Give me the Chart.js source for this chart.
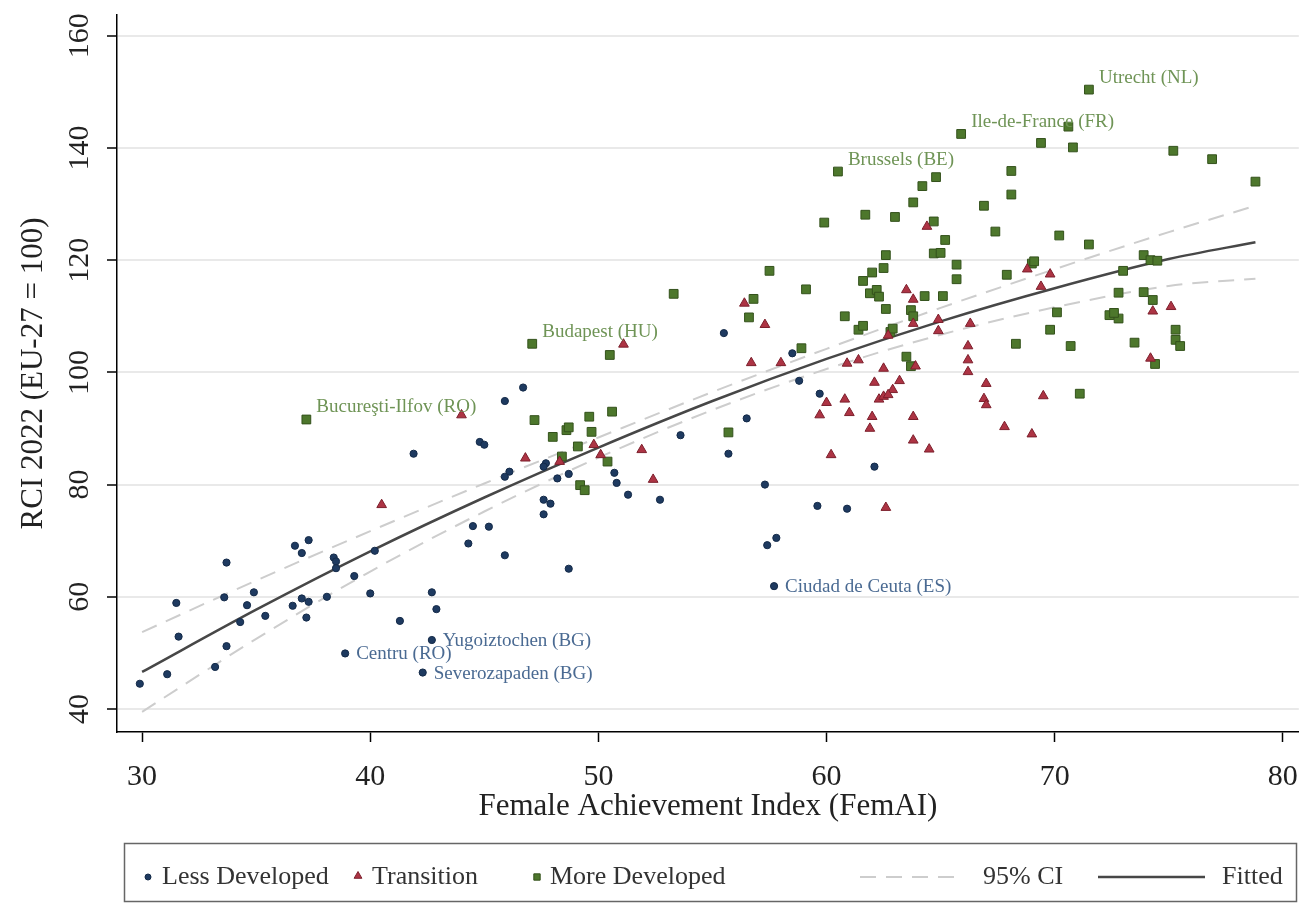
<!DOCTYPE html>
<html>
<head>
<meta charset="utf-8">
<title>RCI 2022 vs Female Achievement Index</title>
<script src="https://cdn.jsdelivr.net/npm/chart.js@4.4.1/dist/chart.umd.min.js"></script>
<style>
  html, body { margin: 0; padding: 0; background: #fff; }
  #wrap { width: 1306px; height: 903px; }
</style>
</head>
<body>
<div id="wrap"><canvas id="rciChart" width="1306" height="903"></canvas></div>
<script>
// tick labels
const xTickValues = [30, 40, 50, 60, 70, 80];
const yTickValues = [40, 60, 80, 100, 120, 140, 160];

// [FemAI, RCI] per region; labelled regions come first in each list
const lessDeveloped = [
  [57.7, 61.9], [42.7, 52.3], [38.9, 49.9], [42.3, 46.5],
  [29.9, 44.5], [31.1, 46.2], [33.2, 47.5], [33.7, 51.2], [31.6, 52.9], [31.5, 58.9],
  [33.7, 66.1], [33.6, 59.9], [34.9, 60.8], [34.6, 58.5], [34.3, 55.5], [35.4, 56.6],
  [36.7, 69.1], [37.3, 70.1], [37.0, 67.8], [36.6, 58.4], [37.0, 59.7], [37.3, 59.1],
  [37.2, 56.3], [38.1, 60.0], [38.4, 67.0], [38.5, 66.3], [38.5, 65.1], [39.3, 63.7],
  [40.2, 68.2], [40.0, 60.6], [41.3, 55.7], [42.7, 60.8], [42.9, 57.8], [41.9, 85.5],
  [44.5, 72.6], [45.2, 72.5], [44.3, 69.5], [44.8, 87.6], [45.0, 87.1],
  [55.5, 107.0], [46.7, 97.3], [45.9, 94.9], [47.7, 83.8], [47.6, 83.2], [46.1, 82.3],
  [45.9, 81.4], [48.2, 81.1], [48.7, 81.9], [50.7, 82.1], [50.8, 80.3], [51.3, 78.2],
  [52.7, 77.3], [53.6, 88.8], [55.7, 85.5], [56.5, 91.8], [57.3, 80.0], [57.4, 69.2],
  [57.8, 70.5], [47.6, 77.3], [47.9, 76.6], [47.6, 74.7], [45.9, 67.4], [48.7, 65.0],
  [58.5, 103.4], [58.8, 98.5], [59.7, 96.2], [62.1, 83.2], [59.6, 76.2], [60.9, 75.7]
];
const lessNames = ['Ciudad de Ceuta (ES)', 'Yugoiztochen (BG)', 'Centru (RO)', 'Severozapaden (BG)'];

const transition = [
  [44.0, 92.4], [40.5, 76.4],
  [51.1, 105.0], [56.4, 112.3], [57.3, 108.5], [56.7, 101.7], [58.0, 101.7], [49.8, 87.1],
  [50.1, 85.3], [46.8, 84.7], [48.3, 84.1], [51.9, 86.2], [52.4, 80.9],
  [64.4, 126.0], [68.8, 118.4], [69.8, 117.5], [69.4, 115.3], [63.5, 114.7], [63.8, 113.0],
  [74.3, 110.9], [75.1, 111.7], [63.8, 108.7], [64.9, 109.4], [66.3, 108.7],
  [74.2, 102.5], [69.5, 95.8], [67.8, 90.3], [69.0, 89.0], [67.0, 98.0], [66.9, 95.3],
  [67.0, 94.2], [66.2, 104.7], [66.2, 102.2], [66.2, 100.1], [64.9, 107.4], [63.9, 101.1],
  [62.7, 106.6], [60.9, 101.6], [61.4, 102.2], [62.5, 100.7], [62.1, 98.2], [63.2, 98.5],
  [62.9, 96.9], [62.3, 95.2], [62.5, 95.7], [62.7, 96.0], [63.8, 92.1], [63.8, 87.9],
  [64.5, 86.3], [62.0, 92.1], [61.9, 90.0], [60.8, 95.2], [61.0, 92.8], [60.0, 94.6],
  [59.7, 92.4], [60.2, 85.3], [62.6, 75.9]
];

const moreDeveloped = [
  [37.2, 91.6], [47.1, 105.1], [60.5, 135.8], [65.9, 142.5], [71.5, 150.4],
  [50.5, 103.1], [56.6, 109.8], [57.5, 118.1], [53.3, 114.0], [56.8, 113.1], [47.2, 91.5],
  [49.6, 92.1], [50.6, 93.0], [49.7, 89.4], [48.0, 88.5], [48.6, 89.7], [48.7, 90.2],
  [49.1, 86.8], [50.4, 84.1], [48.4, 85.0], [49.2, 79.9], [49.4, 79.0], [55.7, 89.3],
  [58.9, 104.3],
  [70.6, 143.8], [69.4, 140.9], [70.8, 140.1], [75.2, 139.5], [76.9, 138.0], [78.8, 134.0],
  [68.1, 135.9], [64.8, 134.8], [64.2, 133.2], [63.8, 130.3], [68.1, 131.7], [66.9, 129.7],
  [61.7, 128.1], [63.0, 127.7], [59.9, 126.7], [64.7, 126.9], [67.4, 125.1], [70.2, 124.4],
  [71.5, 122.8], [65.2, 123.6], [64.7, 121.2], [65.0, 121.3], [62.6, 120.9], [65.7, 119.2],
  [62.5, 118.6], [62.0, 117.8], [61.6, 116.3], [65.7, 116.6], [67.9, 117.4], [69.0, 119.4],
  [69.1, 119.8], [73.9, 120.9], [74.2, 120.0], [74.5, 119.9], [73.0, 118.1], [59.1, 114.8],
  [61.9, 114.1], [62.2, 114.7], [62.3, 113.5], [64.3, 113.6], [65.1, 113.6], [72.8, 114.2],
  [73.9, 114.3], [74.3, 112.9], [62.6, 111.3], [63.7, 111.1], [63.8, 110.0], [60.8, 110.0],
  [70.1, 110.7], [72.4, 110.2], [72.8, 109.6], [72.6, 110.6], [61.4, 107.6], [61.6, 108.3],
  [69.8, 107.6], [75.3, 107.6], [75.3, 105.8], [75.5, 104.7], [73.5, 105.3], [70.7, 104.7],
  [68.3, 105.1], [74.4, 101.5], [71.1, 96.2], [63.7, 101.1], [63.5, 102.8], [62.8, 107.2],
  [62.9, 107.8]
];
const moreNames = ['Bucureşti-Ilfov (RO)', 'Budapest (HU)', 'Brussels (BE)', 'Ile-de-France (FR)', 'Utrecht (NL)'];

// quadratic fit and its 95% CI
const fitX = [30, 35, 40, 45, 50, 55, 60, 65, 70, 75, 78.8];
const fitted = [46.6, 57.7, 68.1, 77.7, 86.6, 94.9, 102.4, 109.1, 115.0, 120.2, 123.2];
const ciUpper = [53.7, 62.9, 71.7, 80.2, 88.4, 96.5, 104.2, 111.5, 118.4, 125.0, 129.7];
const ciLower = [39.5, 52.5, 64.5, 75.2, 84.8, 93.3, 100.6, 106.7, 111.6, 115.4, 116.7];

const SERIF = '"Liberation Serif", "Times New Roman", serif';
const COL = {
  less: '#1e3a60', lessEdge: '#142a48',
  trans: '#ad3444', transEdge: '#7c1f2c',
  more: '#4d772c', moreEdge: '#34521c',
  lessText: '#4a6a92', moreText: '#6f9456',
  fit: '#474747', ci: '#cdcdcd', text: '#222'
};

function pairs(list) {
  return list.map(([x, y]) => ({ x, y }));
}
function curve(ys) {
  return fitX.map((x, i) => ({ x, y: ys[i] }));
}

// region names next to their markers
const pointLabels = {
  id: 'pointLabels',
  afterDatasetsDraw(chart) {
    const ctx = chart.ctx;
    ctx.save();
    ctx.font = '19px ' + SERIF;
    ctx.textAlign = 'left';
    ctx.textBaseline = 'middle';
    const less = chart.getDatasetMeta(0).data;
    ctx.fillStyle = COL.lessText;
    lessNames.forEach((name, i) => ctx.fillText(name, less[i].x + 11, less[i].y + 1));
    const more = chart.getDatasetMeta(2).data;
    ctx.fillStyle = COL.moreText;
    moreNames.forEach((name, i) => ctx.fillText(name, more[i].x + 10, more[i].y - 12));
    ctx.restore();
  }
};

// boxed legend under the x-axis title
const boxLegend = {
  id: 'boxLegend',
  afterDraw(chart) {
    const ctx = chart.ctx;
    const cy = 877;
    const draw = Chart.helpers.drawPoint;
    ctx.save();
    ctx.strokeStyle = '#666';
    ctx.lineWidth = 1.5;
    ctx.strokeRect(124.5, 843.5, 1172, 58);

    ctx.lineWidth = 1;
    ctx.fillStyle = COL.less; ctx.strokeStyle = COL.lessEdge;
    draw(ctx, { pointStyle: 'circle', radius: 3, rotation: 0, borderWidth: 1 }, 148, cy);
    ctx.fillStyle = COL.trans; ctx.strokeStyle = COL.transEdge;
    draw(ctx, { pointStyle: 'triangle', radius: 4.5, rotation: 0, borderWidth: 1 }, 358, cy - 1);
    ctx.fillStyle = COL.more; ctx.strokeStyle = COL.moreEdge;
    draw(ctx, { pointStyle: 'rect', radius: 4.5, rotation: 0, borderWidth: 1 }, 537, cy);

    ctx.lineWidth = 2;
    ctx.strokeStyle = COL.ci;
    ctx.setLineDash([16, 10]);
    ctx.beginPath(); ctx.moveTo(860, cy); ctx.lineTo(964, cy); ctx.stroke();
    ctx.setLineDash([]);
    ctx.lineWidth = 2.5;
    ctx.strokeStyle = COL.fit;
    ctx.beginPath(); ctx.moveTo(1098, cy); ctx.lineTo(1205, cy); ctx.stroke();

    ctx.fillStyle = '#333';
    ctx.font = '26px ' + SERIF;
    ctx.textBaseline = 'middle';
    ctx.textAlign = 'left';
    ctx.fillText('Less Developed', 162, cy);
    ctx.fillText('Transition', 372, cy);
    ctx.fillText('More Developed', 550, cy);
    ctx.fillText('95% CI', 983, cy);
    ctx.fillText('Fitted', 1222, cy);
    ctx.restore();
  }
};

new Chart(document.getElementById('rciChart'), {
  type: 'scatter',
  data: {
    datasets: [
      {
        label: 'Less Developed',
        data: pairs(lessDeveloped),
        pointStyle: 'circle',
        pointRadius: 3.6,
        backgroundColor: COL.less,
        borderColor: COL.lessEdge,
        borderWidth: 1,
        order: 0
      },
      {
        label: 'Transition',
        data: pairs(transition),
        pointStyle: 'triangle',
        pointRadius: 5.6,
        backgroundColor: COL.trans,
        borderColor: COL.transEdge,
        borderWidth: 1,
        order: 0
      },
      {
        label: 'More Developed',
        data: pairs(moreDeveloped),
        pointStyle: 'rect',
        pointRadius: 6.2,
        backgroundColor: COL.more,
        borderColor: COL.moreEdge,
        borderWidth: 1,
        order: 0
      },
      {
        label: '95% CI',
        data: curve(ciUpper),
        showLine: true,
        pointRadius: 0,
        borderColor: COL.ci,
        borderWidth: 2,
        borderDash: [16, 10],
        cubicInterpolationMode: 'monotone',
        order: 1
      },
      {
        label: '95% CI lower',
        data: curve(ciLower),
        showLine: true,
        pointRadius: 0,
        borderColor: COL.ci,
        borderWidth: 2,
        borderDash: [16, 10],
        cubicInterpolationMode: 'monotone',
        order: 1
      },
      {
        label: 'Fitted',
        data: curve(fitted),
        showLine: true,
        pointRadius: 0,
        borderColor: COL.fit,
        borderWidth: 2.5,
        cubicInterpolationMode: 'monotone',
        order: 1
      }
    ]
  },
  options: {
    responsive: false,
    animation: false,
    devicePixelRatio: 1,
    layout: { padding: { left: 0, top: 15, right: 3, bottom: 76 } },
    plugins: {
      legend: { display: false },
      tooltip: { enabled: false }
    },
    scales: {
      x: {
        type: 'linear',
        min: 28.9,
        max: 80.7,
        afterBuildTicks: (scale) => { scale.ticks = xTickValues.map((v) => ({ value: v })); },
        afterFit: (scale) => { scale.height = 95; },
        border: { display: true, color: '#000', width: 1.5 },
        grid: {
          drawOnChartArea: false,
          drawTicks: true,
          tickLength: 10,
          tickColor: '#000',
          tickWidth: 1.5
        },
        ticks: {
          color: COL.text,
          padding: 5,
          font: { family: SERIF, size: 30, lineHeight: 2 }
        },
        title: {
          display: true,
          text: 'Female Achievement Index (FemAI)',
          color: COL.text,
          font: { family: SERIF, size: 31, lineHeight: 1 },
          padding: { top: 0, bottom: 5 }
        }
      },
      y: {
        type: 'linear',
        min: 35.9,
        max: 163.7,
        afterBuildTicks: (scale) => { scale.ticks = yTickValues.map((v) => ({ value: v })); },
        afterFit: (scale) => { scale.width = 117; },
        border: { display: true, color: '#000', width: 1.5 },
        grid: {
          color: '#e9e9e9',
          lineWidth: 2,
          drawTicks: true,
          tickLength: 10,
          tickColor: '#000',
          tickWidth: 1.5
        },
        ticks: {
          color: COL.text,
          padding: 4.5,
          minRotation: 90,
          maxRotation: 90,
          crossAlign: 'center',
          font: { family: SERIF, size: 30, lineHeight: 0.6 }
        },
        title: {
          display: true,
          text: 'RCI 2022 (EU-27 = 100)',
          color: COL.text,
          font: { family: SERIF, size: 31, lineHeight: 1 },
          padding: { top: 18, bottom: 0 }
        }
      }
    }
  },
  plugins: [pointLabels, boxLegend]
});
</script>
</body>
</html>
